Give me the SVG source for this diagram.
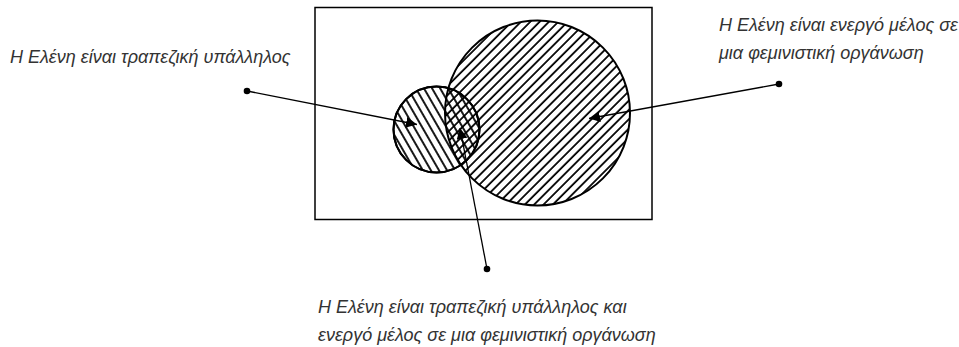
<svg xmlns="http://www.w3.org/2000/svg" width="959" height="347" viewBox="0 0 959 347">
<style>
.lbl{font-family:"Liberation Sans",Arial,sans-serif;font-style:italic;font-size:18px;fill:#333}
.outline{fill:none;stroke:#000;stroke-width:2}
.conn{fill:none;stroke:#000;stroke-width:1.3}
.dot{fill:#000}
</style>
<defs>
<pattern id="hBig" patternUnits="userSpaceOnUse" width="6.6" height="10" patternTransform="rotate(45)">
<line x1="1" y1="-1" x2="1" y2="11" stroke="#000" stroke-width="1.8"/>
</pattern>
<pattern id="hSmall" patternUnits="userSpaceOnUse" width="7" height="10" patternTransform="rotate(-30)">
<line x1="1" y1="-1" x2="1" y2="11" stroke="#000" stroke-width="1.8"/>
</pattern>
<marker id="arr" viewBox="0 0 10 10" refX="10" refY="5" markerWidth="11" markerHeight="11" markerUnits="userSpaceOnUse" orient="auto">
<path d="M0,0 L10,5 L0,10 z" fill="#000"/>
</marker>
</defs>
<rect width="959" height="347" fill="#fff"/>
<g id="frame"><rect x="315" y="7.5" width="337" height="212" fill="none" stroke="#000" stroke-width="1.5"/></g>
<g id="bank-employee"><circle cx="436.5" cy="129.5" r="43" fill="url(#hSmall)" stroke="#000" stroke-width="2"/></g>
<g id="feminist"><circle cx="537.5" cy="113" r="92.5" fill="url(#hBig)" stroke="#000" stroke-width="2"/></g>
<g id="small-outline"><circle cx="436.5" cy="129.5" r="43" class="outline"/></g>
<g id="connectors">
<line class="conn" x1="247" y1="91" x2="417" y2="124.5" marker-end="url(#arr)"/>
<line class="conn" x1="779" y1="84" x2="589" y2="118.5" marker-end="url(#arr)"/>
<line class="conn" x1="487" y1="269" x2="460" y2="128" marker-end="url(#arr)"/>
<circle class="dot" cx="247" cy="91" r="3.3"/>
<circle class="dot" cx="779" cy="84" r="3.3"/>
<circle class="dot" cx="487" cy="269" r="3.3"/>
</g>
<g id="label-left"><text class="lbl" x="10" y="63">Η Ελένη είναι τραπεζική υπάλληλος</text></g>
<g id="label-right"><text class="lbl" x="719" y="31">Η Ελένη είναι ενεργό μέλος σε</text><text class="lbl" x="719" y="59">μια φεμινιστική οργάνωση</text></g>
<g id="label-bottom"><text class="lbl" x="318" y="313">Η Ελένη είναι τραπεζική υπάλληλος και</text><text class="lbl" x="318" y="341">ενεργό μέλος σε μια φεμινιστική οργάνωση</text></g>
</svg>
